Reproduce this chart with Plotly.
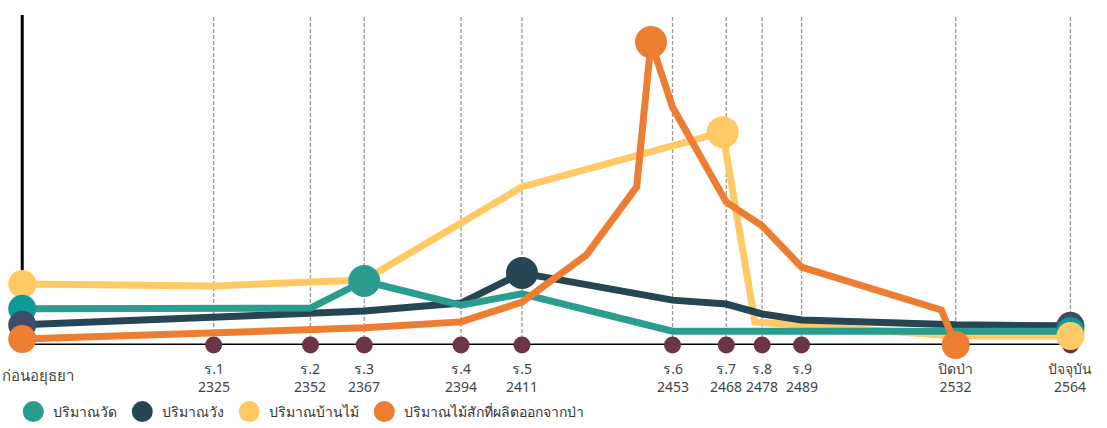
import plotly.graph_objects as go

# ---- timeline ticks (Buddhist Era years; first entry = pre-Ayutthaya) ----
tick_years = [2271.6, 2325, 2352, 2367, 2394, 2411, 2453, 2468, 2478, 2489, 2532, 2564]
tick_names = ["ก่อนอยุธยา", "ร.1", "ร.2", "ร.3", "ร.4", "ร.5", "ร.6", "ร.7", "ร.8", "ร.9", "ปิดป่า", "ปัจจุบัน"]
tick_year_labels = ["", "2325", "2352", "2367", "2394", "2411", "2453", "2468", "2478", "2489", "2532", "2564"]
PRE = tick_years[0]

# ---- series (relative amount index, 0-100) ----
temple_x = [PRE, 2352, 2367, 2394, 2411, 2453, 2564]
temple_y = [11.0, 11.2, 19.4, 12.1, 15.5, 4.2, 4.2]

palace_x = [PRE, 2367, 2394, 2411, 2453, 2468, 2478, 2489, 2532, 2564]
palace_y = [6.1, 10.3, 12.7, 21.8, 13.6, 12.4, 9.4, 7.6, 6.1, 5.8]

house_x = [PRE, 2325, 2352, 2367, 2394, 2411, 2467, 2476, 2532, 2564]
house_y = [18.5, 17.9, 19.1, 19.7, 37.0, 47.9, 64.5, 7.0, 2.7, 2.7]

teak_x = [PRE, 2325, 2367, 2394, 2411, 2429, 2443, 2447, 2453, 2468, 2478, 2489, 2528, 2532]
teak_y = [1.8, 3.6, 5.2, 7.0, 13.0, 27.3, 47.9, 91.8, 72.1, 43.3, 36.1, 23.6, 10.6, 0.0]

series_names = ["ปริมาณวัด", "ปริมาณวัง", "ปริมาณบ้านไม้", "ปริมาณไม้สักที่ผลิตออกจากป่า"]

C_TEMPLE = "#2A9D8F"
C_PALACE = "#264653"
C_HOUSE = "#FFC965"
C_TEAK = "#ED7D31"
C_TEMPLE_END = "#0E9B96"
C_PALACE_END = "#3F4D69"
C_DOT = "#6B3545"
FONT = "Noto Sans, DejaVu Sans, sans-serif"

series = {
    "temple": (temple_x, temple_y, C_TEMPLE, C_TEMPLE_END),
    "palace": (palace_x, palace_y, C_PALACE, C_PALACE_END),
    "house": (house_x, house_y, C_HOUSE, C_HOUSE),
    "teak": (teak_x, teak_y, C_TEAK, C_TEAK),
}

fig = go.Figure()

# small reign dots on the baseline
fig.add_trace(go.Scatter(x=tick_years[1:], y=[0] * (len(tick_years) - 1), mode="markers",
                         marker=dict(size=17, color=C_DOT), cliponaxis=False,
                         showlegend=False, hoverinfo="skip"))

# lines
for key in ["house", "palace", "temple", "teak"]:
    xs, ys, col, _ = series[key]
    fig.add_trace(go.Scatter(x=xs, y=ys, mode="lines", line=dict(color=col, width=7),
                             cliponaxis=False, showlegend=False))


def point(key, idx, size, endcol=True):
    xs, ys, col, col2 = series[key]
    fig.add_trace(go.Scatter(x=[xs[idx]], y=[ys[idx]], mode="markers",
                             marker=dict(size=size, color=col2 if endcol else col),
                             cliponaxis=False, showlegend=False))


def peak(key):
    xs, ys, col, _ = series[key]
    return ys.index(max(ys))


# start markers
for key in ["house", "temple", "palace", "teak"]:
    point(key, 0, 28)
# peak markers
for key in ["temple", "palace", "house", "teak"]:
    point(key, peak(key), 32, endcol=False)
# end markers
for key in ["teak", "palace", "temple", "house"]:
    point(key, -1, 28)

# legend entries
for name, col in zip(series_names, [C_TEMPLE, C_PALACE, C_HOUSE, C_TEAK]):
    fig.add_trace(go.Scatter(x=[None], y=[None], mode="markers", name=name,
                             marker=dict(size=16, color=col, line=dict(color=col, width=5))))

shapes = []
for xv in tick_years[1:]:
    shapes.append(dict(type="line", x0=xv, x1=xv, y0=0, y1=100, layer="below",
                       line=dict(color="#9A9A9A", width=1.3, dash="4px,2px")))
shapes.append(dict(type="line", x0=PRE, x1=PRE, y0=0, y1=100, layer="below",
                   line=dict(color="black", width=3)))
shapes.append(dict(type="line", x0=PRE, x1=tick_years[-1], y0=0, y1=0, layer="below",
                   line=dict(color="black", width=3)))

annotations = []
for i, (xv, nm, yl) in enumerate(zip(tick_years, tick_names, tick_year_labels)):
    if i == 0:
        annotations.append(dict(x=0, xref="paper", y=-0.087, yref="paper", text=nm,
                                showarrow=False, xanchor="left", yanchor="middle",
                                font=dict(family=FONT, size=15, color="#444")))
    else:
        annotations.append(dict(x=xv, xref="x", y=-0.035, yref="paper", text=nm + "<br>" + yl,
                                showarrow=False, xanchor="center", yanchor="top",
                                font=dict(family=FONT, size=14, color="#444")))

fig.update_layout(
    width=1107, height=428,
    margin=dict(l=0, r=0, t=0, b=83),
    paper_bgcolor="white", plot_bgcolor="white",
    xaxis=dict(range=[2265.4, 2574.2], visible=False, showgrid=False, zeroline=False),
    yaxis=dict(range=[0, 104.55], visible=False, showgrid=False, zeroline=False),
    shapes=shapes, annotations=annotations,
    showlegend=True,
    legend=dict(orientation="h", x=0.012, xanchor="left", y=-0.195, yanchor="middle",
                font=dict(family=FONT, size=14, color="#333"), itemsizing="trace",
                bgcolor="rgba(0,0,0,0)"),
    font=dict(family=FONT),
)

fig.write_html("out.html", post_script="document.body.style.margin='0';",
               config={"displayModeBar": False})
